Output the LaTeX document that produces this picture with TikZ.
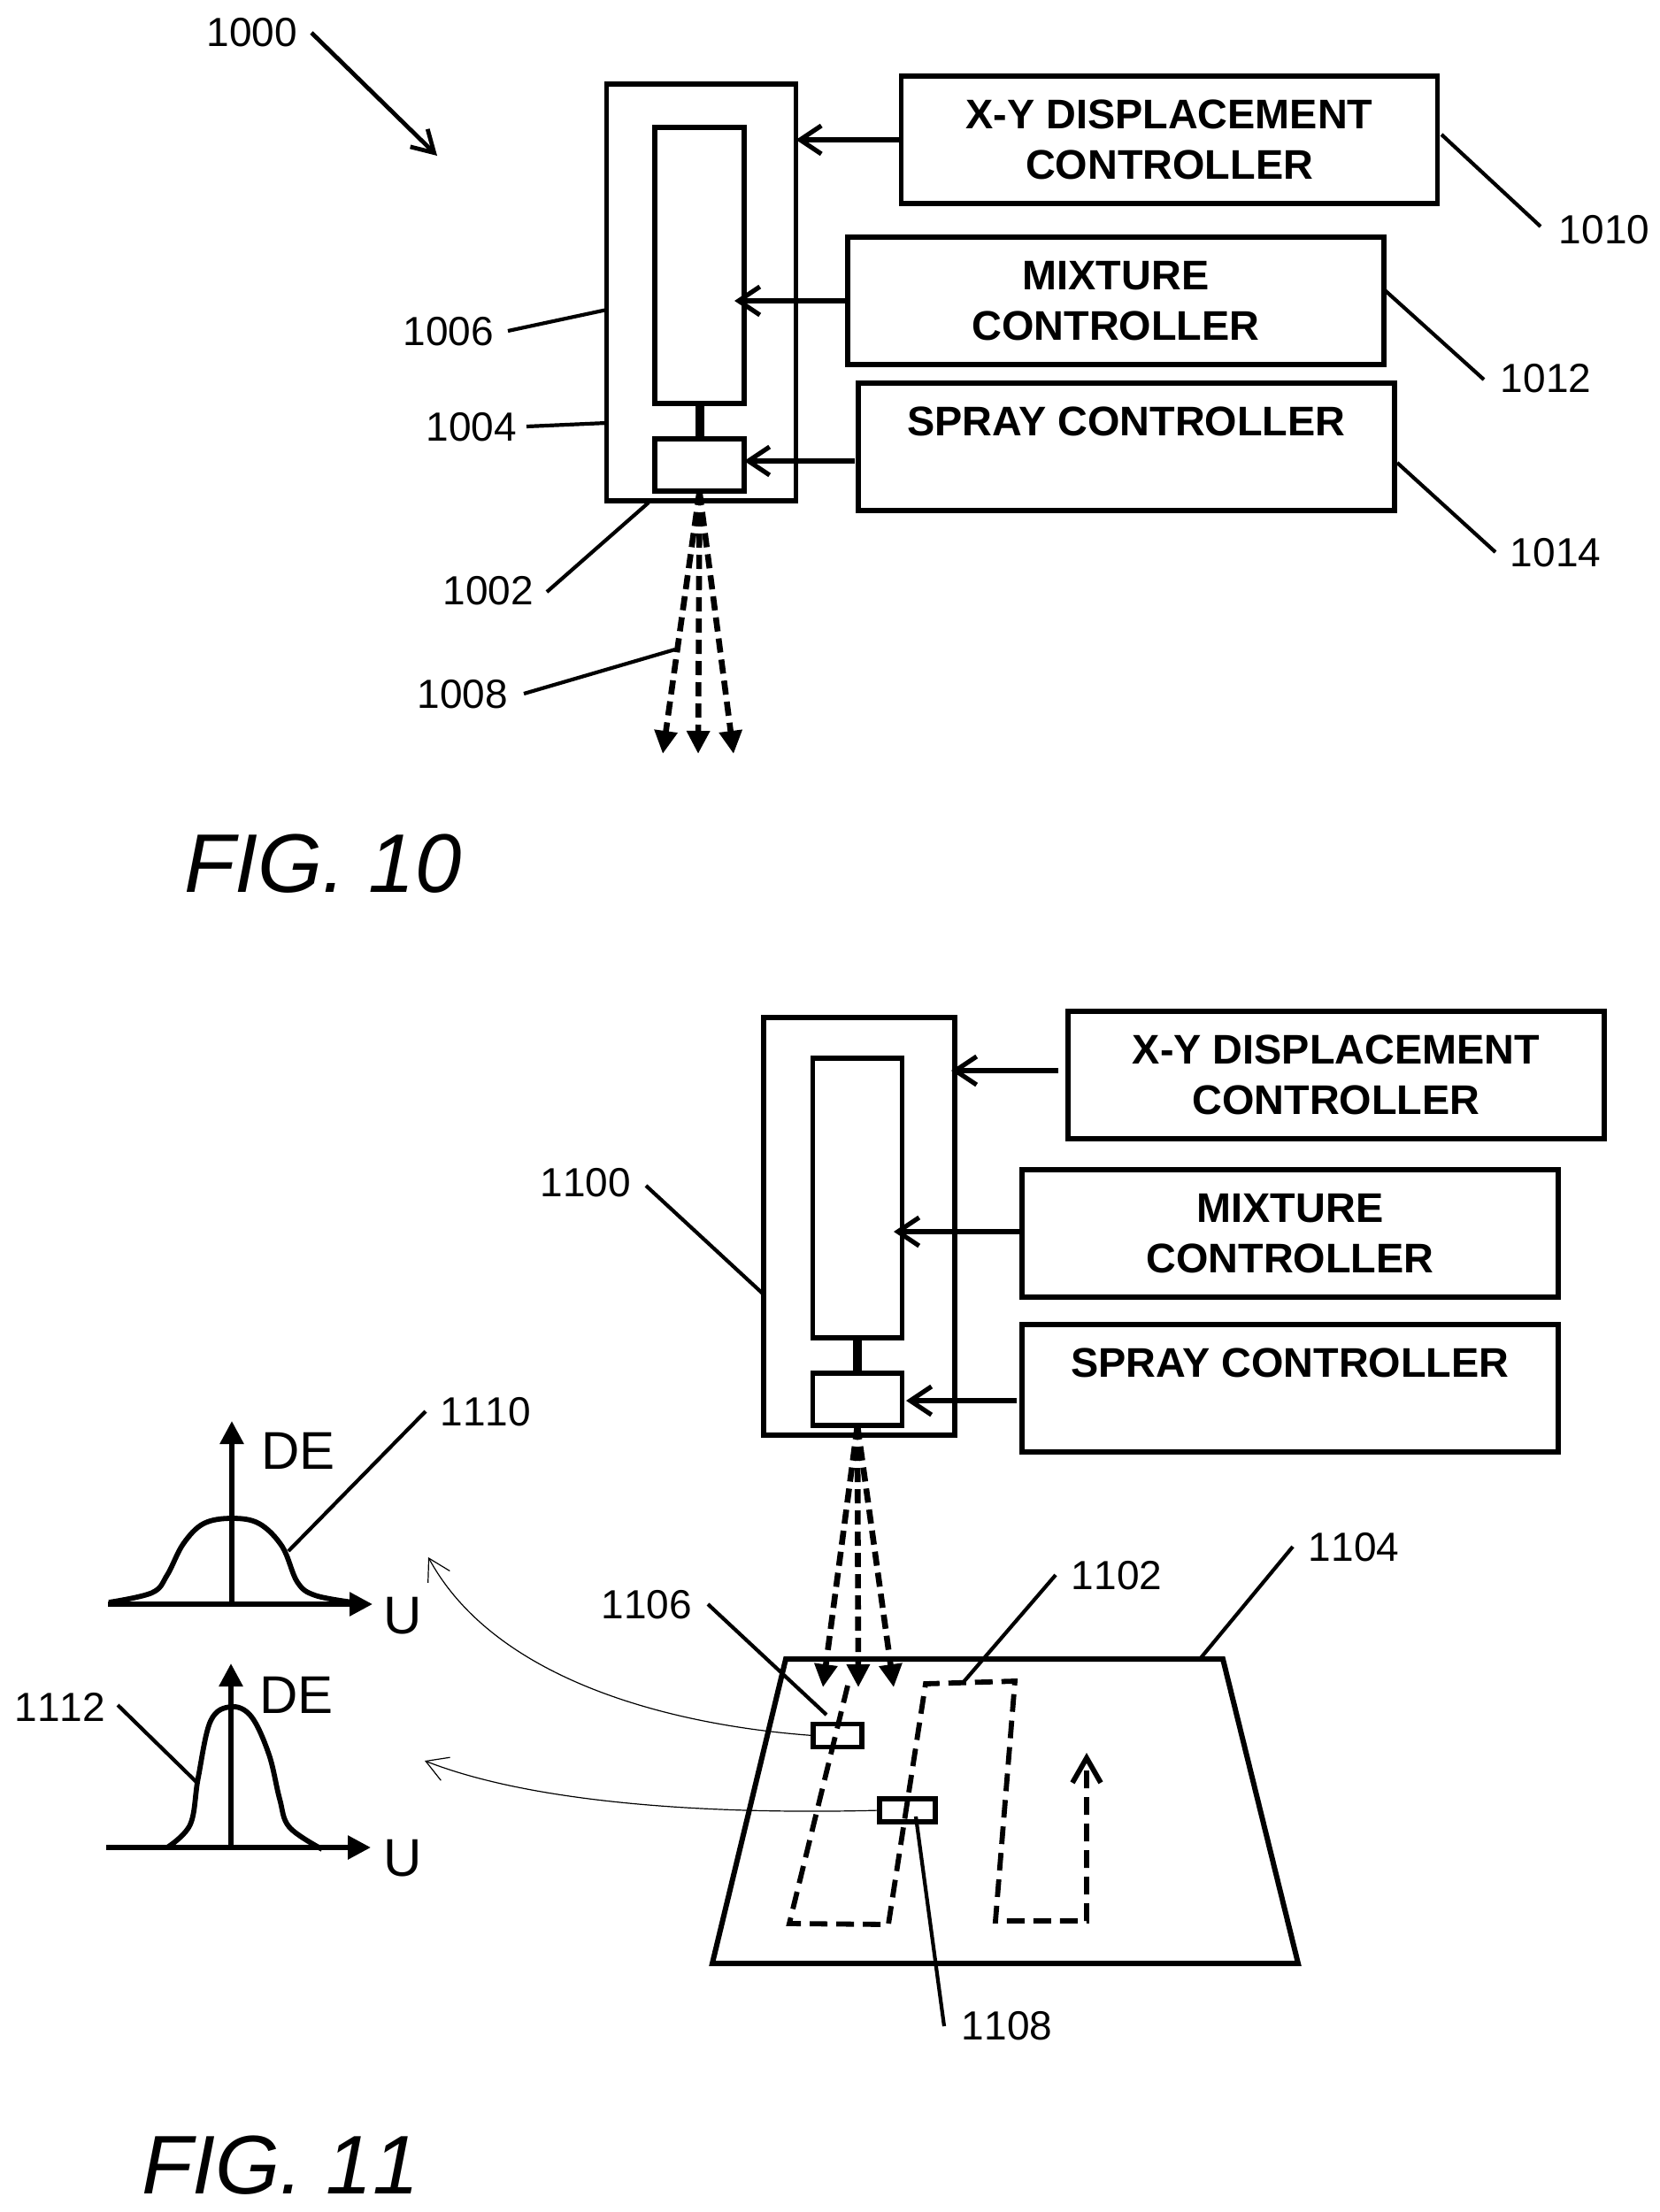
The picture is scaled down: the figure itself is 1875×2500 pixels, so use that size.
\documentclass[tikz,border=0pt]{standalone}
\usepackage{fontspec}
\setmainfont{Liberation Sans}
\newfontfamily\nokern[Kerning=Off]{Liberation Sans}
\usetikzlibrary{arrows.meta}
\tikzset{
 ctrl/.style={draw,line width=2.7pt,inner sep=0pt,outer sep=0pt,align=center,minimum width=303pt,minimum height=72pt,font=\fontsize{23.4}{28.5}\selectfont\bfseries},
 plain/.style={draw,line width=2.7pt,inner sep=0pt,outer sep=0pt},
 num/.style={inner sep=0pt,outer sep=0pt,anchor=base,font=\nokern\fontsize{23}{27}\selectfont},
 axlabel/.style={inner sep=0pt,outer sep=0pt,anchor=base west,font=\fontsize{30}{32}\selectfont},
 figlabel/.style={inner sep=0pt,outer sep=0pt,anchor=base west,font=\nokern\fontsize{47}{50}\selectfont\itshape},
 leader/.style={line width=2.1pt},
 ctlarrow/.style={line width=2.6pt,-{Straight Barb[length=12pt,width=16pt]}},
 link/.style={line width=5pt},
 fan/.style={line width=3.3pt,dash pattern=on 8pt off 4pt,-{Triangle[length=13pt,width=12.5pt]}},
 scan/.style={line width=2.9pt,dash pattern=on 10pt off 5pt},
 scanend/.style={scan,-{Straight Barb[length=14pt,width=16pt]}},
 axisline/.style={line width=2.9pt,-{Triangle[length=13pt,width=13pt]}},
 bell/.style={line width=2.9pt},
 thin/.style={line width=0.6pt,-{Straight Barb[length=12pt,width=14pt]}},
}
\begin{document}
\begin{tikzpicture}[x=0.5pt,y=-0.5pt]
\useasboundingbox[fill=white] (0,0) rectangle (1875,2500);
% ---------- FIG. 10 ----------
\node[plain,minimum width=107pt,minimum height=235.5pt] (outerA) at (792.5,330.5) {};
\node[plain,minimum width=50.5pt,minimum height=156pt] (tallA) at (790.5,300) {};
\node[plain,minimum width=50.5pt,minimum height=29.5pt] (smallA) at (790.5,525.5) {};
\draw[link] (tallA.south) -- (smallA.north);
\node[ctrl] (xyA) at (1321.5,158) {X-Y DISPLACEMENT\\CONTROLLER};
\node[ctrl] (mixA) at (1261,340) {MIXTURE\\CONTROLLER};
\node[ctrl] (sprA) at (1273,505) {SPRAY CONTROLLER\\\mbox{}};
\coordinate (mixTipA) at (830,340);
\coordinate (sprStartA) at (966,521);
\coordinate (sprTipA) at (841,521);
\draw[ctlarrow] (xyA.west) -- (outerA.east |- xyA.west);
\draw[ctlarrow] (mixA.west) -- (mixTipA);
\draw[ctlarrow] (sprStartA) -- (sprTipA);
\coordinate (fa1) at (749,852);
\coordinate (fa2) at (789,852);
\coordinate (fa3) at (829,852);
\draw[fan] (smallA.south) -- (fa1);
\draw[fan] (smallA.south) -- (fa2);
\draw[fan] (smallA.south) -- (fa3);
\node[num] (n1000) at (285,52) {1000};
\node[num] (n1010) at (1813,275) {1010};
\node[num] (n1012) at (1747,443) {1012};
\node[num] (n1014) at (1758,640) {1014};
\node[num] (n1006) at (507,390) {1006};
\node[num] (n1004) at (533,498) {1004};
\node[num] (n1002) at (552,683) {1002};
\node[num] (n1008) at (523,800) {1008};
\coordinate (a1) at (352,37); \coordinate (a2) at (494,176);
\draw[line width=2.4pt,-{Straight Barb[length=12pt,width=14pt]}] (a1) -- (a2);
\coordinate (b1) at (1629,152); \coordinate (b2) at (1741,256);
\draw[leader] (b1) -- (b2);
\coordinate (c1) at (1565,328); \coordinate (c2) at (1677,429);
\draw[leader] (c1) -- (c2);
\coordinate (d1) at (1579,523); \coordinate (d2) at (1690,624);
\draw[leader] (d1) -- (d2);
\coordinate (e1) at (574,374); \coordinate (e2) at (686,350);
\draw[leader] (e1) -- (e2);
\coordinate (f1) at (595,482); \coordinate (f2) at (686,478);
\draw[leader] (f1) -- (f2);
\coordinate (g1) at (618,669); \coordinate (g2) at (733,568);
\draw[leader] (g1) -- (g2);
\coordinate (h1) at (592,784); \coordinate (h2) at (763,734);
\draw[leader] (h1) -- (h2);
\node[figlabel] (fig10) at (208,1008) {FIG. 10};
% ---------- FIG. 11 ----------
\node[plain,minimum width=108pt,minimum height=236pt] (outerB) at (971,1386) {};
\node[plain,minimum width=50.5pt,minimum height=158pt] (tallB) at (969,1354) {};
\node[plain,minimum width=50.5pt,minimum height=29.5pt] (smallB) at (969,1581.5) {};
\draw[link] (tallB.south) -- (smallB.north);
\node[ctrl] (xyB) at (1510,1215) {X-Y DISPLACEMENT\\CONTROLLER};
\node[ctrl] (mixB) at (1458,1394) {MIXTURE\\CONTROLLER};
\node[ctrl] (sprB) at (1458,1569) {SPRAY CONTROLLER\\\mbox{}};
\coordinate (xyStartB) at (1196,1210);
\coordinate (xyTipB) at (1075,1210);
\coordinate (mixTipB) at (1010,1392);
\coordinate (sprStartB) at (1149,1583);
\coordinate (sprTipB) at (1024,1583);
\draw[ctlarrow] (xyStartB) -- (xyTipB);
\draw[ctlarrow] (mixB.west |- mixTipB) -- (mixTipB);
\draw[ctlarrow] (sprStartB) -- (sprTipB);
\coordinate (fb1) at (930,1907);
\coordinate (fb2) at (970,1907);
\coordinate (fb3) at (1010,1907);
\draw[fan] (smallB.south) -- (fb1);
\draw[fan] (smallB.south) -- (fb2);
\draw[fan] (smallB.south) -- (fb3);
% surface
\coordinate (s1) at (888,1875); \coordinate (s2) at (1382,1875);
\coordinate (s3) at (1467,2219); \coordinate (s4) at (805,2219);
\draw[line width=3pt] (s1) -- (s2) -- (s3) -- (s4) -- cycle;
% path
\coordinate (p1) at (958,1905); \coordinate (p2) at (892,2174);
\coordinate (p3) at (1004,2175); \coordinate (p4) at (1046,1903);
\coordinate (p5) at (1147,1900); \coordinate (p6) at (1125,2171);
\coordinate (p7) at (1228,2171); \coordinate (p8) at (1228,1981);
\draw[scanend] (p1) -- (p2) -- (p3) -- (p4) -- (p5) -- (p6) -- (p7) -- (p8);
\node[plain,minimum width=27.5pt,minimum height=13pt] (r1106) at (946.5,1961.5) {};
\node[plain,minimum width=31.5pt,minimum height=13pt] (r1108) at (1025.5,2046) {};
% thin curves
\coordinate (t1) at (484,1760); \coordinate (t2) at (480,1990);
\draw[thin] (r1106.west) .. controls (760,1950) and (560,1900) .. (t1);
\draw[thin] (r1108.west) .. controls (850,2050) and (620,2045) .. (t2);
% leaders
\node[num] (n1100) at (662,1352) {1100};
\coordinate (i1) at (730,1340); \coordinate (i2) at (862,1462);
\draw[leader] (i1) -- (i2);
\node[num] (n1104) at (1530,1764) {1104};
\coordinate (j1) at (1461,1748); \coordinate (j2) at (1356,1875);
\draw[leader] (j1) -- (j2);
\node[num] (n1102) at (1262,1796) {1102};
\coordinate (k1) at (1193,1780); \coordinate (k2) at (1088,1902);
\draw[leader] (k1) -- (k2);
\node[num] (n1106) at (731,1829) {1106};
\coordinate (l1) at (800,1813); \coordinate (l2) at (934,1938);
\draw[leader] (l1) -- (l2);
\node[num] (n1108) at (1138,2305) {1108};
\coordinate (m1) at (1035,2053); \coordinate (m2) at (1067,2290);
\draw[leader] (m1) -- (m2);
% graphs
\coordinate (ax1) at (122,1813); \coordinate (ax1t) at (421,1813);
\coordinate (ay1) at (262,1813); \coordinate (ay1t) at (262,1606);
\draw[axisline] (ax1) -- (ax1t);
\draw[axisline] (ay1) -- (ay1t);
\draw[bell] plot[smooth,tension=.6] coordinates {(123,1811) (172,1800) (189,1780) (207,1745) (230,1722) (262,1716) (293,1722) (319,1748) (336,1788) (356,1803) (399,1811)};
\coordinate (ax2) at (120,2088); \coordinate (ax2t) at (419,2088);
\coordinate (ay2) at (261,2088); \coordinate (ay2t) at (261,1880);
\draw[axisline] (ax2) -- (ax2t);
\draw[axisline] (ay2) -- (ay2t);
\draw[bell] plot[smooth,tension=.6] coordinates {(189,2088) (215,2062) (224,2009) (238,1945) (261,1929) (284,1940) (304,1983) (316,2033) (327,2065) (364,2090)};
\node[axlabel] (de1) at (295,1660) {DE};
\node[axlabel] (de2) at (293,1936) {DE};
\node[axlabel] (u1) at (433,1846) {U};
\node[axlabel] (u2) at (433,2120) {U};
\node[num] (n1110) at (549,1611) {1110};
\node[num] (n1112) at (68,1945) {1112};
\coordinate (o1) at (481,1595); \coordinate (o2) at (326,1753);
\draw[leader] (o1) -- (o2);
\coordinate (q1) at (133,1927); \coordinate (q2) at (223,2015);
\draw[leader] (q1) -- (q2);
\node[figlabel] (fig11) at (160,2479) {FIG. 11};
\end{tikzpicture}
\end{document}
